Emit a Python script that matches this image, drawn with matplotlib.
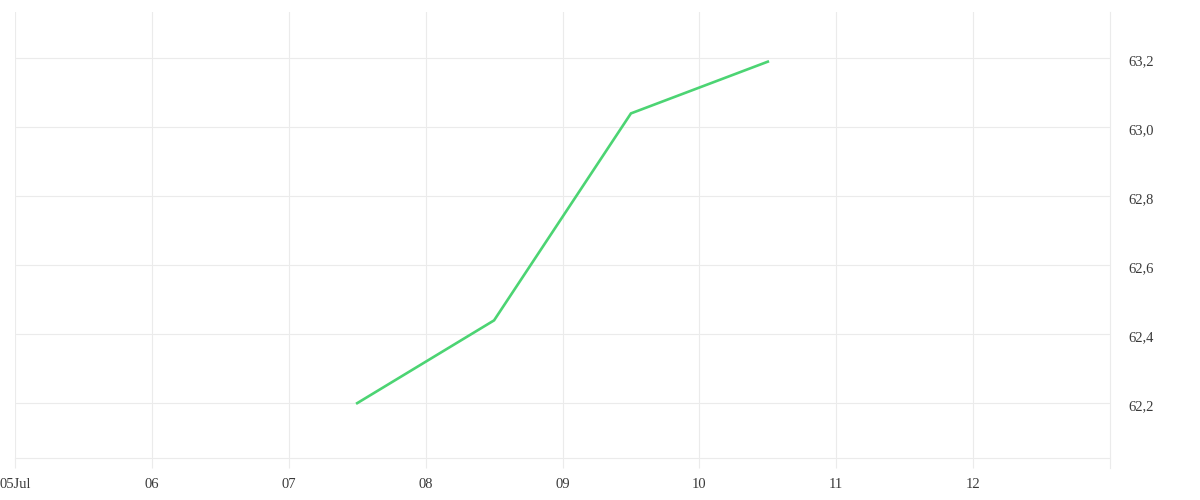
import matplotlib
matplotlib.use("Agg")
import matplotlib.pyplot as plt
import matplotlib.dates as mdates
import matplotlib.transforms as mtrans
from matplotlib.ticker import FuncFormatter, FixedLocator
import datetime as dt

# Data
dates = [dt.datetime(2023, 7, 7, 12), dt.datetime(2023, 7, 8, 12),
         dt.datetime(2023, 7, 9, 12), dt.datetime(2023, 7, 10, 12)]
values = [62.20, 62.44, 63.04, 63.19]
y_ticks = [62.2, 62.4, 62.6, 62.8, 63.0, 63.2]
x_tick_days = [5, 6, 7, 8, 9, 10, 11, 12]
x_tick_labels = ["05Jul", "06", "07", "08", "09", "10", "11", "12"]

plt.rcParams['font.family'] = ['Liberation Serif', 'DejaVu Serif']

fig = plt.figure(figsize=(12, 5), dpi=100)
ax = fig.add_axes([15/1200, 1 - 458/500, (1110 - 15)/1200, (458 - 12)/500])

grid_c = "#ebebeb"
ax.plot(dates, values, color="#4cd473", linewidth=1.9, solid_joinstyle="miter")

ax.set_xlim(dt.datetime(2023, 7, 5), dt.datetime(2023, 7, 13))
ax.set_ylim(62.041, 63.334)

xt = [mdates.date2num(dt.datetime(2023, 7, d)) for d in x_tick_days]
ax.xaxis.set_major_locator(FixedLocator(xt))
ax.set_xticklabels(x_tick_labels)
ax.set_yticks(y_ticks)
ax.yaxis.set_major_formatter(FuncFormatter(lambda v, p: f"{v:.1f}".replace(".", ",")))
ax.yaxis.tick_right()

ax.grid(True, color=grid_c, linewidth=0.8)
ax.set_axisbelow(True)
for s in ["top", "left"]:
    ax.spines[s].set_visible(False)
for s in ["bottom", "right"]:
    ax.spines[s].set_color(grid_c)
    ax.spines[s].set_linewidth(0.8)
ax.spines["right"].set_bounds(62.041 - 10/345, 63.334)

ax.tick_params(axis="x", length=7.2, width=0.8, color=grid_c, pad=7.5, labelsize=10.5, labelcolor="#3a3a3a")
ax.tick_params(axis="y", length=0, pad=13, labelsize=10.5, labelcolor="#3a3a3a")

off = mtrans.ScaledTranslation(0, -2/100, fig.dpi_scale_trans)
for lab in ax.get_yticklabels():
    lab.set_transform(lab.get_transform() + off)

fig.savefig("out.png", dpi=100, facecolor="white")
